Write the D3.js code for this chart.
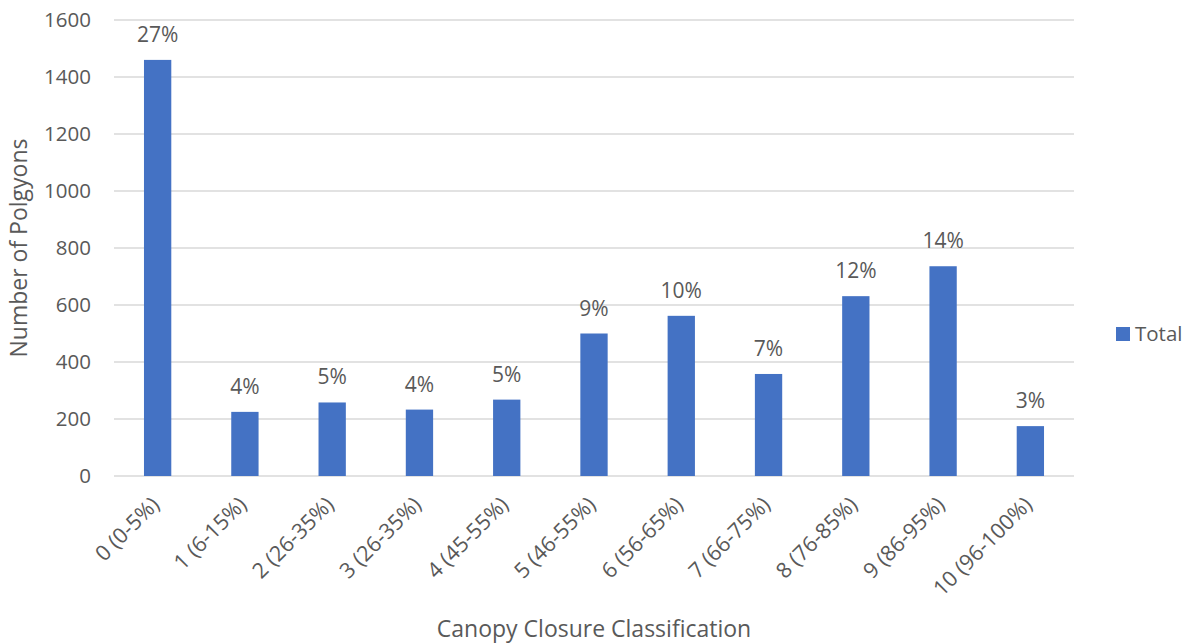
<!DOCTYPE html>
<html>
<head>
<meta charset="utf-8">
<script src="https://cdn.jsdelivr.net/npm/d3@7"></script>
<style>
	body{margin:0;background:#fff;}
	svg text{font-family:"Open Sans",sans-serif;fill:#595959;}
</style>
</head>
<body>
<div id="chart"></div>
<script>
// values
var categories=["0 (0-5%)","1 (6-15%)","2 (26-35%)","3 (26-35%)","4 (45-55%)","5 (46-55%)","6 (56-65%)","7 (66-75%)","8 (76-85%)","9 (86-95%)","10 (96-100%)"]
var totals=[1460,225,258,233,268,500,562,358,631,736,175]
var percentLabels=["27%","4%","5%","4%","5%","9%","10%","7%","12%","14%","3%"]
var yTicks=[0,200,400,600,800,1000,1200,1400,1600]

var width=1190, height=643
var plot={left:114, right:1074, top:20, bottom:476}

var svg=d3.select("#chart").append("svg")
	.attr("width",width)
	.attr("height",height)

var x=d3.scaleBand()
	.domain(categories)
	.range([plot.left,plot.right])
	.paddingInner(0.687)
	.paddingOuter(0.3435)

var y=d3.scaleLinear()
	.domain([0,1600])
	.range([plot.bottom,plot.top])

// gridlines
svg.append("g")
	.selectAll("line")
	.data(yTicks)
	.enter().append("line")
	.attr("x1",plot.left)
	.attr("x2",plot.right)
	.attr("y1",function(d){return y(d)})
	.attr("y2",function(d){return y(d)})
	.attr("stroke","#d9d9d9")
	.attr("stroke-width",1.3)

// y axis labels
var yAxis=svg.append("g")
	.attr("transform","translate("+(plot.left-23)+",0)")
	.call(d3.axisLeft(y).tickValues(yTicks).tickFormat(d3.format("d")).tickSize(0).tickPadding(0))
yAxis.select(".domain").remove()
yAxis.selectAll("text").style("font-size","20.5px").attr("fill","#595959")

// bars
svg.append("g")
	.selectAll("rect")
	.data(totals)
	.enter().append("rect")
	.attr("x",function(d,i){return x(categories[i])})
	.attr("y",function(d){return y(d)})
	.attr("width",x.bandwidth())
	.attr("height",function(d){return y(0)-y(d)})
	.attr("fill","#4472c4")

// data labels
svg.append("g")
	.selectAll("text")
	.data(totals)
	.enter().append("text")
	.attr("x",function(d,i){return x(categories[i])+x.bandwidth()/2})
	.attr("y",function(d){return y(d)-18})
	.attr("text-anchor","middle")
	.style("font-size","21px")
	.text(function(d,i){return percentLabels[i]})

// x axis labels, rotated
var xAxis=svg.append("g")
	.attr("transform","translate(0,"+plot.bottom+")")
	.call(d3.axisBottom(x).tickSize(0).tickPadding(0))
xAxis.select(".domain").remove()
xAxis.selectAll("text")
	.style("font-size","21.5px")
	.attr("fill","#595959")
	.attr("text-anchor","end")
	.attr("dy","0")
	.attr("transform","translate(3,30) rotate(-45)")

// axis titles
svg.append("text")
	.attr("transform","translate(27,"+((plot.top+plot.bottom)/2)+") rotate(-90)")
	.attr("text-anchor","middle")
	.style("font-size","23px")
	.text("Number of Polgyons")

svg.append("text")
	.attr("x",594)
	.attr("y",637)
	.attr("text-anchor","middle")
	.style("font-size","23px")
	.text("Canopy Closure Classification")

// legend
var legend=svg.append("g").attr("transform","translate(1116,327)")
legend.append("rect")
	.attr("width",14)
	.attr("height",14)
	.attr("fill","#4472c4")
legend.append("text")
	.attr("x",19)
	.attr("y",14)
	.style("font-size","20.5px")
	.text("Total")
</script>
</body>
</html>
